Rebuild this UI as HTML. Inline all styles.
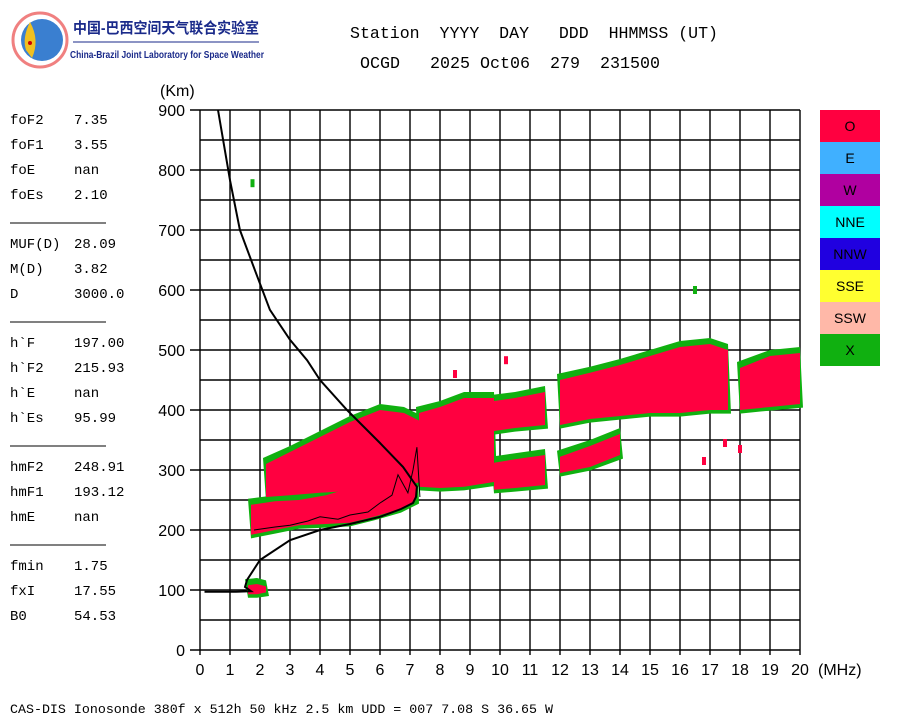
<!DOCTYPE html>
<html><head><meta charset="utf-8"><style>
html,body{margin:0;padding:0;background:#fff;}
svg{display:block;}
.mono{font-family:"Liberation Mono","Noto Sans CJK SC",monospace;}
.sans{font-family:"Liberation Sans",sans-serif;}
</style></head><body>
<svg id="chart" width="900" height="720" viewBox="0 0 900 720" xmlns="http://www.w3.org/2000/svg">
<g>
  <circle cx="40" cy="40" r="27" fill="#fff" stroke="#f08080" stroke-width="3"/>
  <circle cx="42" cy="40" r="21" fill="#3a7fd0"/>
  <path d="M30 22 Q40 40 32 58 L26 50 Q22 38 30 22Z" fill="#f0c020"/>
  <circle cx="30" cy="43" r="2" fill="#c00"/>
  <text x="73" y="33" font-size="15" fill="#1a2a8a" font-family="'Liberation Sans','Noto Sans CJK SC',sans-serif" font-weight="bold" textLength="186" lengthAdjust="spacingAndGlyphs">中国-巴西空间天气联合实验室</text>
  <line x1="73" y1="42" x2="259" y2="42" stroke="#1a2a8a" stroke-width="1"/>
  <text x="70" y="58" font-size="10.5" fill="#1a2a8a" class="sans" font-weight="bold" textLength="194" lengthAdjust="spacingAndGlyphs">China-Brazil Joint Laboratory for Space Weather</text>
</g>
<text x="350" y="38" font-size="17" class="mono" xml:space="preserve" textLength="368" lengthAdjust="spacingAndGlyphs">Station  YYYY  DAY   DDD  HHMMSS (UT)</text>
<text x="360" y="68" font-size="17" class="mono" xml:space="preserve" textLength="300" lengthAdjust="spacingAndGlyphs">OCGD   2025 Oct06  279  231500</text>
<g id="params" class="mono" font-size="14"></g>
<g id="grid"></g>
<g id="echoes"></g>
<g id="curves"></g>
<g id="axes" class="sans" font-size="16"></g>
<text x="160" y="96" font-size="16" class="sans">(Km)</text>
<text x="818" y="675" font-size="16" class="sans">(MHz)</text>
<g id="legend" class="sans" font-size="14"></g>
<text x="10" y="713" font-size="13" class="mono" textLength="543" lengthAdjust="spacingAndGlyphs">CAS-DIS Ionosonde 380f x 512h 50 kHz 2.5 km UDD = 007 7.08 S 36.65 W</text>
</svg>
<script>
const xTicks = [0,1,2,3,4,5,6,7,8,9,10,11,12,13,14,15,16,17,18,19,20];
const yTicks = [0,100,200,300,400,500,600,700,800,900];
const paramRows = [["foF2","7.35"],["foF1","3.55"],["foE","nan"],["foEs","2.10"],null,["MUF(D)","28.09"],["M(D)"," 3.82"],["D","3000.0"],null,["h`F","197.00"],["h`F2","215.93"],["h`E","nan"],["h`Es","95.99"],null,["hmF2","248.91"],["hmF1","193.12"],["hmE","nan"],null,["fmin","1.75"],["fxI","17.55"],["B0","54.53"]];
const legendLabels = ["O","E","W","NNE","NNW","SSE","SSW","X"];
const legendColors = ["#ff0040","#40b0ff","#b000a0","#00ffff","#2000e0","#ffff30","#ffb8a8","#10b010"];
// echo clusters: freqs (MHz), low and high virtual heights (km)
const esF = [1.6,1.9,2.2];
const esLo = [93,93,96];
const esHi = [108,110,106];
const lowF = [1.7,2.5,3.3,4.2,5.0,5.8,6.7,7.2];
const lowLo = [192,200,208,210,212,222,235,250];
const lowHi = [242,248,250,258,270,283,305,360];
const upF = [2.2,3.0,4.0,5.0,6.0,6.8,7.4];
const upLo = [255,258,262,265,270,275,280];
const upHi = [310,330,355,380,400,395,380];
const cF3 = [7.3,8.0,8.8,9.8];
const cLo3 = [272,270,272,280];
const cHi3 = [395,405,420,420];
const cF4 = [9.8,10.5,11.5];
const cLo4 = [267,270,275];
const cHi4 = [312,318,325];
const cF5 = [9.8,10.5,11.5];
const cLo5 = [365,370,375];
const cHi5 = [415,420,430];
const cF6 = [12.0,13.0,14.0];
const cLo6 = [295,305,325];
const cHi6 = [322,340,360];
const cF7 = [12.0,13.0,14.0,15.0,16.0,17.0,17.6];
const cLo7 = [375,385,390,395,395,400,400];
const cHi7 = [450,462,475,490,505,510,500];
const cF8 = [18.0,19.0,20.0];
const cLo8 = [400,405,410];
const cHi8 = [470,490,495];
const dotF = [1.75,16.5,8.5,10.2,17.5,18.0,16.8,12.3];
const dotH = [778,600,460,483,345,335,315,395];
const dotC = ["#10b010","#10b010","#ff0040","#ff0040","#ff0040","#ff0040","#ff0040","#ff0040"];
// profile curves
const profF = [0.6,1.0,1.33,1.83,2.33,3.0,3.57,4.0,4.9,6.0,6.77,7.23,7.2,7.1,6.7,6.0,5.0,4.0,3.0,2.0,1.57,1.5,1.7,1.2,0.5,0.15];
const profH = [900,783,700,633,567,517,483,450,400,345,305,272,255,245,235,222,210,200,183,150,117,105,98,97,97,97];
const virtF = [1.8,2.5,3.0,3.6,4.0,4.6,5.0,5.6,6.0,6.4,6.6,6.93,7.1,7.23,7.33];
const virtH = [200,205,208,215,222,218,225,230,245,258,292,262,300,338,255];

const NS="http://www.w3.org/2000/svg";
const X0=200,X1=800,Y0=650,Y1=110;
const xs=f=>X0+(X1-X0)*f/20;
const ys=h=>Y0-(Y0-Y1)*h/900;
function mk(tag,attrs,parent){const e=document.createElementNS(NS,tag);for(const k in attrs)e.setAttribute(k,attrs[k]);parent.appendChild(e);return e;}

const params=document.getElementById('params');
let py=124;
paramRows.forEach(r=>{
  if(r===null){const l=mk('line',{x1:10,x2:106,y1:py-1,y2:py-1,stroke:'#000','stroke-width':1},params);
    
    
    py+=24;return;}
  const t=mk('text',{x:10,y:py},params);t.textContent=r[0];
  
  
  const v=mk('text',{x:74,y:py,'xml:space':'preserve'},params);v.textContent=r[1];
  
  
  py+=25;
});

const grid=document.getElementById('grid');
xTicks.forEach(f=>{const l=mk('line',{x1:xs(f),x2:xs(f),y1:Y1,y2:Y0+5,stroke:'#000','stroke-width':1.4},grid);
  
  });
for(let h=0;h<=900;h+=50){const l=mk('line',{x1:h%100===0?190:X0,x2:X1,y1:ys(h),y2:ys(h),stroke:'#000','stroke-width':1.4},grid);
  
  }

const axes=document.getElementById('axes');
xTicks.forEach(f=>{const t=mk('text',{x:xs(f),y:675,'text-anchor':'middle'},axes);t.textContent=f;
  
  });
yTicks.forEach(h=>{const t=mk('text',{x:185,y:ys(h)+6,'text-anchor':'end'},axes);t.textContent=h;
  
  });

const echoes=document.getElementById('echoes');
const clusters=[[esF,esLo,esHi],[upF,upLo,upHi],[lowF,lowLo,lowHi],[cF3,cLo3,cHi3],[cF4,cLo4,cHi4],[cF5,cLo5,cHi5],[cF6,cLo6,cHi6],[cF7,cLo7,cHi7],[cF8,cLo8,cHi8]];
function poly(F,L,H,dl,dh,df){
  const pts=[];
  F.forEach((f,i)=>pts.push(xs(f+(i===0?-df:0))+','+ys(H[i]+dh)));
  for(let i=F.length-1;i>=0;i--)pts.push(xs(F[i]+(i===F.length-1?df:0))+','+ys(L[i]-dl));
  return pts.join(' ');
}
clusters.forEach((c,i)=>{
  const g=mk('polygon',{points:poly(c[0],c[1],c[2],6,10,0.1),fill:'#10b010'},echoes);
  
  
});
clusters.forEach((c,i)=>{
  const r=mk('polygon',{points:poly(c[0],c[1],c[2],0,0,0),fill:'#ff0040'},echoes);
  
  
});
dotF.forEach((f,i)=>{const d=mk('rect',{x:xs(f)-2,y:ys(dotH[i])-4,width:4,height:8,fill:dotC[i]},echoes);
  
  });

const curves=document.getElementById('curves');
const p=mk('polyline',{points:profF.map((f,i)=>xs(f)+','+ys(profH[i])).join(' '),fill:'none',stroke:'#000','stroke-width':2},curves);


const v=mk('polyline',{points:virtF.map((f,i)=>xs(f)+','+ys(virtH[i])).join(' '),fill:'none',stroke:'#000','stroke-width':1},curves);



const legend=document.getElementById('legend');
legendLabels.forEach((lab,i)=>{
  const y=110+i*32;
  const r=mk('rect',{x:820,y:y,width:60,height:32,fill:legendColors[i]},legend);
  
  
  const t=mk('text',{x:850,y:y+21,'text-anchor':'middle',fill:'#000'},legend);t.textContent=lab;
  
  
});
</script>
</body></html>
